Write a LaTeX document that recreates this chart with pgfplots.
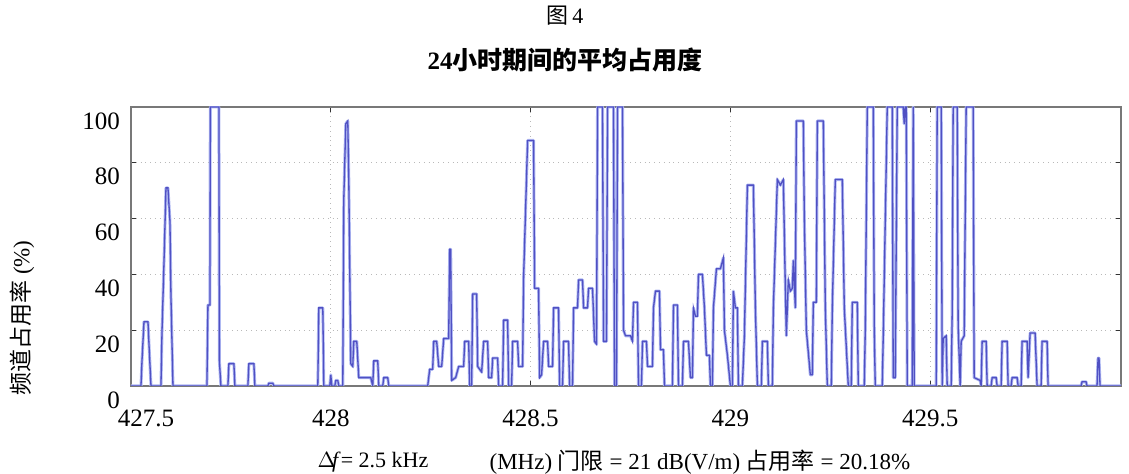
\documentclass[border=0pt]{standalone}
\usepackage{pgfplots}
\pgfplotsset{compat=1.18}
\usepackage{fontspec}
\setmainfont{Liberation Serif}
\newfontfamily\cjk{Noto Sans CJK SC}
\definecolor{sig}{RGB}{80,80,195}
\definecolor{siglight}{RGB}{175,185,242}
\definecolor{frame}{RGB}{120,120,120}
\pgfplotstableread{
x y
427.5 0
427.525 0
427.5275 9
427.5325 23
427.5425 23
427.545 15
427.55 0
427.575 0
427.5775 19
427.5825 44
427.5875 71
427.5925 71
427.5975 59
427.6 32
427.605 0
427.69 0
427.6925 29
427.6975 29
427.6985 100
427.72 100
427.7212 9
427.725 0
427.7425 0
427.745 8
427.7575 8
427.76 0
427.7925 0
427.795 8
427.8075 8
427.81 0
427.8425 0
427.845 1
427.855 1
427.8575 0
427.9675 0
427.97 28
427.98 28
427.9825 0
427.9975 0
428.0 4
428.0025 0
428.01 0
428.0125 2
428.0175 2
428.02 0
428.03 0
428.0325 67
428.0375 94
428.0425 95
428.045 74
428.05 8
428.055 7
428.0575 16
428.065 16
428.07 3
428.1 3
428.105 0
428.1075 9
428.1175 9
428.12 0
428.13 0
428.1325 3
428.1425 3
428.145 0
428.2425 0
428.2475 6
428.255 6
428.2575 16
428.265 16
428.27 7
428.2775 7
428.2825 17
428.295 17
428.2975 49
428.3 49
428.3025 2
428.3125 3
428.32 7
428.3325 7
428.335 16
428.345 16
428.3475 0
428.3525 0
428.355 33
428.365 33
428.3675 7
428.3775 5
428.3825 16
428.3925 16
428.395 3
428.4025 3
428.405 10
428.4175 10
428.42 0
428.43 0
428.4325 23.6
428.4425 23.6
428.445 0
428.4525 0
428.455 16
428.4675 16
428.47 7
428.48 7
428.4825 39
428.4925 88
428.5075 88
428.51 35
428.52 35
428.5225 3
428.5275 4
428.5325 16
428.5425 16
428.545 7
428.555 7
428.5575 28
428.57 28
428.5725 0
428.58 0
428.5825 16
428.595 16
428.5975 0
428.605 0
428.6075 28
428.6175 28
428.62 38
428.63 38
428.6325 28
428.6425 28
428.645 35
428.655 35
428.66 16
428.665 15
428.6675 100
428.68 100
428.6825 16
428.69 16
428.6925 100
428.7075 100
428.71 0
428.715 0
428.7175 100
428.73 100
428.7325 20
428.7375 18
428.75 18
428.755 16
428.7575 30
428.7675 30
428.77 0
428.7775 0
428.78 16
428.79 16
428.7925 7
428.805 7
428.8075 28
428.8125 34
428.8225 34
428.825 13
428.8325 13
428.835 0
428.855 0
428.8575 29
428.8675 29
428.87 0
428.88 0
428.8825 16
428.895 16
428.9 3
428.905 3
428.9075 28
428.9125 25
428.9175 25
428.92 40
428.93 40
428.935 28
428.94 11
428.9475 11
428.95 0
428.955 0
428.9575 28
428.965 42
428.975 42
428.9825 46
428.985 20
428.9925 11
429.0 0
429.005 0
429.0075 34
429.0125 28
429.0175 28
429.02 0
429.03 0
429.035 18
429.0425 72
429.0575 72
429.0625 28
429.0675 0
429.0775 0
429.08 16
429.0925 16
429.095 0
429.105 0
429.1075 28
429.1175 74
429.125 72
429.1325 74
429.1375 35
429.14 18
429.145 38
429.15 34
429.155 35
429.1575 45
429.1625 28
429.165 95
429.1825 95
429.185 60
429.19 20
429.2 4
429.205 4
429.2075 30
429.215 30
429.2175 95
429.2325 95
429.2375 28
429.2425 0
429.2525 0
429.255 28
429.2625 74
429.28 74
429.285 28
429.295 0
429.3025 0
429.305 30
429.3175 30
429.32 0
429.335 0
429.3375 20
429.3425 100
429.3575 100
429.36 20
429.3625 0
429.38 0
429.3825 18
429.3925 100
429.405 100
429.4075 3
429.4125 3
429.4175 100
429.4325 100
429.435 94
429.4375 100
429.44 100
429.4425 0
429.455 0
429.4575 100
429.46 0
429.515 0
429.5175 100
429.5275 100
429.53 0
429.5325 17
429.54 18
429.5425 0
429.5525 0
429.555 26
429.5575 100
429.5675 100
429.57 21
429.575 0
429.5775 16
429.585 18
429.59 100
429.6075 100
429.61 3
429.625 2
429.6275 0
429.63 16
429.64 16
429.6425 0
429.6525 0
429.655 3
429.665 3
429.6675 0
429.6775 0
429.68 16
429.6925 16
429.695 0
429.7025 0
429.705 3
429.7175 3
429.72 0
429.7275 0
429.73 16
429.7425 16
429.745 3
429.75 19
429.7625 19
429.7675 0
429.7775 0
429.78 16
429.7925 16
429.795 0
429.8775 0
429.88 1.5
429.89 1.5
429.8925 0
429.9175 0
429.92 10
429.9225 10
429.925 0
429.9775 0
}\occ
\begin{document}
\begin{tikzpicture}
\useasboundingbox (-65.5pt,-44pt) rectangle (499pt,193pt);
\begin{axis}[
  at={(0,0)}, anchor=south west,
  scale only axis, width=495pt, height=139.5pt,
  xmin=427.5, xmax=429.9775, ymin=0, ymax=100,
  xtick={427.5,428,428.5,429,429.5},
  xticklabels={\hspace*{15pt}427.5,428,428.5,429,429.5},
  ytick={0,20,40,60,80,100},
  yticklabels={0,20,40,60,80,100},
  /pgf/number format/assume math mode=true,
  tick label style={font=\fontsize{12.5}{14}\selectfont},
  xticklabel style={yshift=-8.5pt},
  yticklabel style={yshift=-7pt, xshift=-2pt},
  tick align=inside, major tick length=2.5pt,
  tick style={black!80, line width=0.4pt},
  axis line style={frame, line width=0.6pt},
  grid=major, major grid style={gray!55, dotted, line width=0.5pt},
  clip=true,
]
\addplot[siglight, line width=1.5pt, mark=none, line join=round] table {\occ};
\addplot[sig, line width=0.65pt, mark=none] table {\occ};
\end{axis}
\node[font=\fontsize{11}{13}\selectfont] at (217pt,185pt) {{\cjk 图}\,4};
\node[font=\fontsize{12.5}{15}\selectfont\bfseries] at (217pt,163pt) {24{\cjk 小时期间的平均占用度}};
\node[font=\fontsize{11.5}{13}\selectfont, rotate=90] at (-54.5pt,34pt) {{\cjk 频道占用率} (\%)};
\node[font=\fontsize{11}{13}\selectfont] at (121pt,-38pt) {$\Delta$\!\textit{f}= 2.5 kHz};
\node[font=\fontsize{11.5}{13}\selectfont] at (284.5pt,-38pt) {(MHz) {\cjk 门限} = 21 dB(V/m) {\cjk 占用率} = 20.18\%};
\end{tikzpicture}
\end{document}
